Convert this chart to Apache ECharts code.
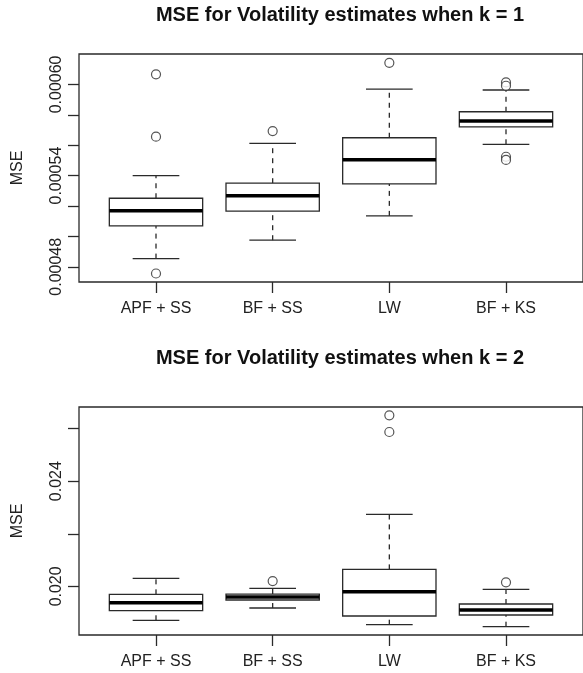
<!DOCTYPE html>
<html><head><meta charset="utf-8">
<script src="https://cdn.jsdelivr.net/npm/echarts@6/dist/echarts.min.js"></script>
<style>html,body{margin:0;padding:0;background:#fff}#c{width:583px;height:673px}</style>
</head><body><div id="c"></div>
<script>
const categories = ['APF + SS', 'BF + SS', 'LW', 'BF + KS'];

// k = 1
const whiskerLow1  = [0.0004854, 0.0004975, 0.0005135, 0.0005606];
const q1_1         = [0.0005069, 0.0005166, 0.0005345, 0.0005721];
const median1      = [0.0005168, 0.0005268, 0.0005505, 0.0005759];
const q3_1         = [0.0005251, 0.0005350, 0.0005649, 0.0005820];
const whiskerHigh1 = [0.0005400, 0.0005612, 0.0005969, 0.0005963];
const outliers1 = [[0, 0.0006066], [0, 0.0005656], [0, 0.0004756], [1, 0.0005693],
                   [2, 0.0006142], [3, 0.0006013], [3, 0.0005991], [3, 0.0005524], [3, 0.0005503]];
const yTicks1 = [0.00048, 0.00050, 0.00052, 0.00054, 0.00056, 0.00058, 0.00060];
const yLabels1 = [0.00048, 0.00054, 0.00060];

// k = 2
const whiskerLow2  = [0.018709, 0.019176, 0.018542, 0.018466];
const q1_2         = [0.019074, 0.019480, 0.018872, 0.018910];
const median2      = [0.019377, 0.019594, 0.019795, 0.019100];
const q3_2         = [0.019696, 0.019708, 0.020645, 0.019328];
const whiskerHigh2 = [0.020304, 0.019924, 0.022734, 0.019886];
const outliers2 = [[1, 0.020201], [2, 0.026504], [2, 0.025870], [3, 0.020152]];
const yTicks2 = [0.020, 0.022, 0.024, 0.026];
const yLabels2 = [0.020, 0.024];

const titles = ['MSE for Volatility estimates when k = 1', 'MSE for Volatility estimates when k = 2'];

const FONT = 'Liberation Sans, Arial, Helvetica, sans-serif';
const BOX_W = 0.8, CAP_W = 0.4;
const LINE = '#2a2a2a';

function build(lo, q1, med, q3, hi) {
  return categories.map((c, i) => [i, lo[i], q1[i], med[i], q3[i], hi[i]]);
}

function renderBox(params, api) {
  const x = api.value(0);
  const lo = api.coord([x, api.value(1)]);
  const q1 = api.coord([x, api.value(2)]);
  const md = api.coord([x, api.value(3)]);
  const q3 = api.coord([x, api.value(4)]);
  const hi = api.coord([x, api.value(5)]);
  const half = api.size([BOX_W, 0])[0] / 2;
  const cap = api.size([CAP_W, 0])[0] / 2;
  const s = {stroke: LINE, lineWidth: 1.3};
  const d = {stroke: LINE, lineWidth: 1.3, lineDash: [5, 5]};
  return {type: 'group', children: [
    {type: 'line', shape: {x1: lo[0], y1: lo[1], x2: q1[0], y2: q1[1]}, style: d},
    {type: 'line', shape: {x1: q3[0], y1: q3[1], x2: hi[0], y2: hi[1]}, style: d},
    {type: 'line', shape: {x1: lo[0] - cap, y1: lo[1], x2: lo[0] + cap, y2: lo[1]}, style: s},
    {type: 'line', shape: {x1: hi[0] - cap, y1: hi[1], x2: hi[0] + cap, y2: hi[1]}, style: s},
    {type: 'rect', shape: {x: q3[0] - half, y: q3[1], width: 2 * half, height: q1[1] - q3[1]},
      style: {fill: '#fff', stroke: LINE, lineWidth: 1.3}},
    {type: 'line', shape: {x1: md[0] - half, y1: md[1], x2: md[0] + half, y2: md[1]},
      style: {stroke: '#000', lineWidth: 3.5}}
  ]};
}

const grids = [
  {left: 79, top: 54, width: 511, height: 228},
  {left: 79, top: 407, width: 511, height: 228}
];

function xAxis(gi) {
  return {
    type: 'value', gridIndex: gi, min: -0.66, max: 3.66,
    splitLine: {show: false}, axisLine: {show: false, onZero: false},
    axisTick: {show: true, length: 11, lineStyle: {color: LINE, width: 1.3}, customValues: [0, 1, 2, 3]},
    axisLabel: {customValues: [0, 1, 2, 3], formatter: v => categories[Math.round(v)],
      color: '#222', fontFamily: FONT, fontSize: 16, margin: 19}
  };
}
function yAxis(gi, min, max, ticks, labels, dec) {
  return {
    type: 'value', gridIndex: gi, min: min, max: max,
    name: 'MSE', nameLocation: 'middle', nameGap: 53, nameRotate: 90,
    nameTextStyle: {color: '#222', fontFamily: FONT, fontSize: 16},
    splitLine: {show: false}, axisLine: {show: false, onZero: false},
    axisTick: {show: true, length: 11, lineStyle: {color: LINE, width: 1.3}, customValues: ticks},
    axisLabel: {customValues: labels, formatter: v => v.toFixed(dec), rotate: 90,
      color: '#222', fontFamily: FONT, fontSize: 16, margin: 14}
  };
}

const option = {
  animation: false,
  backgroundColor: '#fff',
  title: [
    {text: titles[0], left: 335, top: 0, textAlign: 'center',
      textStyle: {fontFamily: FONT, fontSize: 20, fontWeight: 'bold', color: '#111'}},
    {text: titles[1], left: 335, top: 343, textAlign: 'center',
      textStyle: {fontFamily: FONT, fontSize: 20, fontWeight: 'bold', color: '#111'}}
  ],
  grid: grids.map(g => Object.assign({show: true, borderColor: LINE, borderWidth: 1.3, backgroundColor: 'transparent'}, g)),
  xAxis: [xAxis(0), xAxis(1)],
  yAxis: [
    yAxis(0, 0.00047, 0.00062, yTicks1, yLabels1, 5),
    yAxis(1, 0.01815, 0.02682, yTicks2, yLabels2, 3)
  ],
  series: [
    {type: 'custom', xAxisIndex: 0, yAxisIndex: 0, renderItem: renderBox,
      encode: {x: 0, y: [1, 2, 3, 4, 5]}, data: build(whiskerLow1, q1_1, median1, q3_1, whiskerHigh1)},
    {type: 'scatter', xAxisIndex: 0, yAxisIndex: 0, symbol: 'circle', symbolSize: 9,
      itemStyle: {color: '#fff', borderColor: LINE, borderWidth: 1.2}, data: outliers1},
    {type: 'custom', xAxisIndex: 1, yAxisIndex: 1, renderItem: renderBox,
      encode: {x: 0, y: [1, 2, 3, 4, 5]}, data: build(whiskerLow2, q1_2, median2, q3_2, whiskerHigh2)},
    {type: 'scatter', xAxisIndex: 1, yAxisIndex: 1, symbol: 'circle', symbolSize: 9,
      itemStyle: {color: '#fff', borderColor: LINE, borderWidth: 1.2}, data: outliers2}
  ]
};
const chart = echarts.init(document.getElementById('c'), null, {renderer: 'canvas'});
chart.setOption(option);
</script></body></html>
